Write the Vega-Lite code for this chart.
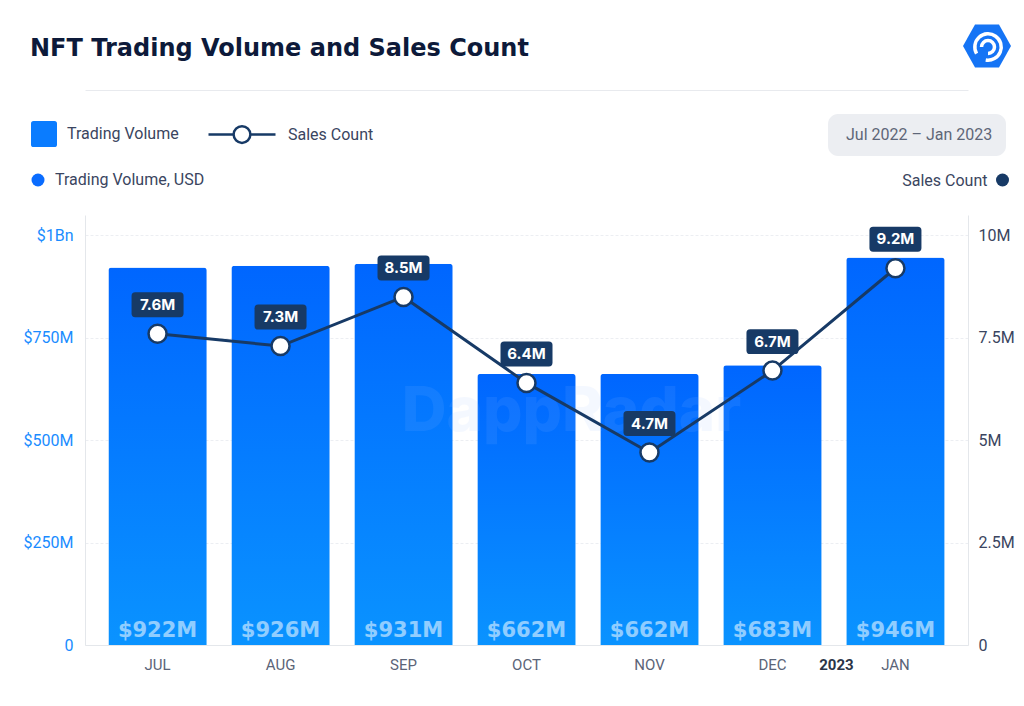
{
  "$schema": "https://vega.github.io/schema/vega-lite/v6.json",
  "width": 883,
  "height": 430,
  "autosize": "none",
  "padding": {"left": 85, "top": 215, "right": 56, "bottom": 61},
  "background": "white",
  "config": {
    "view": {"stroke": null},
    "axis": {"labelFont": "Roboto", "titleFont": "Roboto"},
    "legend": {"labelFont": "Roboto", "labelFontSize": 16, "labelColor": "#3a4560", "padding": 0, "title": null}
  },
  "title": {
    "text": "NFT Trading Volume and Sales Count",
    "anchor": "start",
    "frame": "group",
    "dx": -55,
    "offset": -40,
    "font": "DejaVu Sans",
    "fontSize": 24,
    "fontWeight": "bold",
    "color": "#0d1a3a"
  },
  "data": {
    "values": [
      {"month": "JUL", "tv": 922000000, "sc": 7600000, "tvLabel": "$922M", "scLabel": "7.6M"},
      {"month": "AUG", "tv": 926000000, "sc": 7300000, "tvLabel": "$926M", "scLabel": "7.3M"},
      {"month": "SEP", "tv": 931000000, "sc": 8500000, "tvLabel": "$931M", "scLabel": "8.5M"},
      {"month": "OCT", "tv": 662000000, "sc": 6400000, "tvLabel": "$662M", "scLabel": "6.4M"},
      {"month": "NOV", "tv": 662000000, "sc": 4700000, "tvLabel": "$662M", "scLabel": "4.7M"},
      {"month": "DEC", "tv": 683000000, "sc": 6700000, "tvLabel": "$683M", "scLabel": "6.7M"},
      {"month": "JAN", "tv": 946000000, "sc": 9200000, "tvLabel": "$946M", "scLabel": "9.2M"}
    ]
  },
  "layer": [
    {
      "encoding": {
        "x": {
          "field": "month", "type": "nominal", "sort": null,
          "scale": {"paddingInner": 0.2, "paddingOuter": 0.19},
          "axis": {
            "orient": "bottom", "title": null, "labelAngle": 0, "ticks": false,
            "labelPadding": 12, "labelFontSize": 15, "labelColor": "#5b6478",
            "domainColor": "#e4e7eb", "grid": false
          }
        },
        "y": {
          "field": "tv", "type": "quantitative",
          "scale": {"domain": [0, 1050000000], "nice": false},
          "axis": {
            "orient": "left", "title": null, "values": [0, 250000000, 500000000, 750000000, 1000000000],
            "labelExpr": "datum.value == 0 ? '0' : datum.value >= 1e9 ? '$1Bn' : '$' + datum.value / 1e6 + 'M'",
            "ticks": false, "labelPadding": 12, "labelFontSize": 16, "labelColor": "#1a8cff",
            "domainColor": "#e4e7eb", "grid": true, "gridColor": "#eceef2", "gridDash": [3, 2]
          }
        }
      },
      "layer": [
        {
          "mark": {
            "type": "bar",
            "cornerRadiusTopLeft": 3,
            "cornerRadiusTopRight": 3,
            "color": {
              "gradient": "linear", "x1": 0, "y1": 0, "x2": 0, "y2": 1,
              "stops": [{"offset": 0, "color": "#0066ff"}, {"offset": 1, "color": "#0a93ff"}]
            }
          }
        },
        {
          "mark": {"type": "text", "font": "DejaVu Sans", "fontSize": 21, "fontWeight": "bold", "color": "#ffffff", "opacity": 0.55, "baseline": "alphabetic", "dy": -8},
          "encoding": {"y": {"datum": 0, "type": "quantitative"}, "text": {"field": "tvLabel"}}
        },
        {
          "transform": [{"filter": "datum.month == 'OCT'"}],
          "mark": {"type": "text", "font": "Inter", "fontSize": 62, "fontWeight": 800, "color": "#9fc3ff", "opacity": 0.1, "dx": 45},
          "encoding": {"y": {"datum": 570000000, "type": "quantitative"}, "text": {"value": "DappRadar"}}
        },
        {
          "transform": [{"filter": "datum.month == 'JAN'"}],
          "mark": {"type": "text", "font": "Roboto", "fontSize": 15, "fontWeight": "bold", "color": "#2b3548", "dx": -59, "dy": 20, "baseline": "middle"},
          "encoding": {"y": {"datum": 0, "type": "quantitative"}, "text": {"value": "2023"}}
        }
      ]
    },
    {
      "encoding": {
        "x": {
          "field": "month", "type": "nominal", "sort": null,
          "axis": {
            "orient": "top", "offset": 125, "title": null, "labels": false, "ticks": false,
            "domainColor": "#e8eaee", "grid": false
          }
        },
        "y": {
          "field": "sc", "type": "quantitative",
          "scale": {"domain": [0, 10500000], "nice": false},
          "axis": {
            "orient": "right", "values": [0, 2500000, 5000000, 7500000, 10000000],
            "labelExpr": "datum.value == 0 ? '0' : datum.value / 1e6 + 'M'",
            "ticks": false, "labelPadding": 10, "labelFontSize": 16, "labelColor": "#3a4560",
            "domainColor": "#e4e7eb", "grid": false,
            "title": "Sales Count", "titleAngle": 0, "titleX": 19, "titleY": -35,
            "titleAlign": "right", "titleBaseline": "middle", "titleFontSize": 16,
            "titleFontWeight": "normal", "titleColor": "#3a4560"
          }
        }
      },
      "layer": [
        {"mark": {"type": "line", "color": "#173a66", "strokeWidth": 3}},
        {"mark": {"type": "point", "filled": true, "fill": "#ffffff", "stroke": "#173a66", "strokeWidth": 2.5, "size": 324, "opacity": 1}},
        {
          "mark": {
            "type": "point", "filled": true, "color": "#173a66", "opacity": 1, "size": 2704, "yOffset": -29,
            "shape": "M-0.86,-0.48 L0.86,-0.48 Q1,-0.48 1,-0.34 L1,0.34 Q1,0.48 0.86,0.48 L-0.86,0.48 Q-1,0.48 -1,0.34 L-1,-0.34 Q-1,-0.48 -0.86,-0.48 Z"
          }
        },
        {
          "mark": {"type": "text", "font": "Inter", "fontSize": 15, "fontWeight": 700, "color": "#ffffff", "yOffset": -29, "baseline": "middle"},
          "encoding": {"text": {"field": "scLabel"}}
        }
      ]
    },
    {
      "mark": {"type": "point", "filled": true, "opacity": 0},
      "encoding": {
        "color": {
          "datum": "Trading Volume", "type": "nominal", "scale": {"range": ["#0a7cff"]},
          "legend": {
            "orient": "none", "legendX": -55, "legendY": -95, "symbolOpacity": 1, "symbolSize": 676,
            "symbolType": "M-0.8,-1 L0.8,-1 Q1,-1 1,-0.8 L1,0.8 Q1,1 0.8,1 L-0.8,1 Q-1,1 -1,0.8 L-1,-0.8 Q-1,-1 -0.8,-1 Z",
            "labelOffset": 9
          }
        }
      }
    },
    {
      "mark": {"type": "point", "filled": false, "opacity": 0},
      "encoding": {
        "color": {
          "datum": "Sales Count", "type": "nominal", "scale": {"range": ["#173a66"]},
          "legend": {
            "orient": "none", "legendX": 122, "legendY": -115.5, "symbolOpacity": 1, "symbolSize": 4489,
            "symbolStrokeWidth": 2.5,
            "symbolType": "M-1,0 L-0.25,0 M0.25,0 L1,0 M0.25,0 A0.25,0.25 0 1 1 -0.25,0 A0.25,0.25 0 1 1 0.25,0",
            "labelOffset": 11
          }
        }
      }
    },
    {
      "mark": {"type": "point", "filled": true, "opacity": 0},
      "encoding": {
        "color": {
          "datum": "Trading Volume, USD", "type": "nominal", "scale": {"range": ["#0a6cff"]},
          "legend": {
            "orient": "none", "legendX": -55, "legendY": -43, "symbolOpacity": 1, "symbolSize": 169,
            "symbolType": "circle", "labelOffset": 9
          }
        }
      }
    },
    {
      "mark": {"type": "point", "filled": true, "opacity": 0},
      "encoding": {
        "color": {
          "datum": "Sales Count dot", "type": "nominal", "scale": {"range": ["#173a66"]},
          "legend": {
            "orient": "none", "legendX": 909.5, "legendY": -43, "symbolOpacity": 1, "symbolSize": 169,
            "symbolType": "circle", "labelExpr": "''", "labelOffset": 0
          }
        }
      }
    },
    {
      "mark": {"type": "point", "filled": true, "opacity": 0},
      "encoding": {
        "color": {
          "datum": "Jul 2022 – Jan 2023", "type": "nominal", "scale": {"range": ["#eceef2"]},
          "legend": {
            "orient": "none", "legendX": 743, "legendY": -101, "symbolOpacity": 0, "symbolSize": 0,
            "symbolType": "circle", "labelOffset": -11, "labelColor": "#5e6678",
            "fillColor": "#eceef2", "cornerRadius": 10, "padding": 13
          }
        }
      }
    },
    {
      "mark": {"type": "point", "filled": true, "opacity": 0},
      "encoding": {
        "color": {
          "datum": "logo", "type": "nominal", "scale": {"range": ["#1574f5"]},
          "legend": {
            "orient": "none", "legendX": 877, "legendY": -194, "symbolOpacity": 1, "symbolSize": 2304,
            "symbolType": "M-1,0 L-0.5,-0.9 L0.5,-0.9 L1,0 L0.5,0.9 L-0.5,0.9 Z",
            "labelExpr": "''", "labelOffset": 0
          }
        }
      }
    },
    {
      "mark": {"type": "point", "filled": false, "opacity": 0},
      "encoding": {
        "color": {
          "datum": "logo ring", "type": "nominal", "scale": {"range": ["#ffffff"]},
          "legend": {
            "orient": "none", "legendX": 877, "legendY": -194, "symbolOpacity": 1, "symbolSize": 2304,
            "symbolStrokeWidth": 3.5,
            "symbolType": "M-0.476,0.275 A0.55,0.55 0 1 1 -0.095,0.542 M-0.27,0 A0.27,0.27 0 1 1 0,0.27",
            "labelExpr": "''", "labelOffset": 0
          }
        }
      }
    }
  ],
  "resolve": {
    "scale": {"y": "independent", "color": "independent"},
    "axis": {"x": "independent"},
    "legend": {"color": "independent"}
  }
}
